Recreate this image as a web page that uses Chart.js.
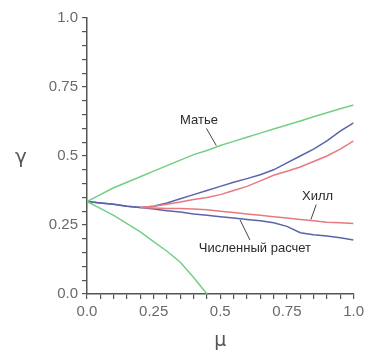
<!DOCTYPE html>
<html>
<head>
<meta charset="utf-8">
<script src="https://cdn.jsdelivr.net/npm/chart.js@4.4.1/dist/chart.umd.min.js"></script>
<style>
  html, body { margin: 0; padding: 0; background: #fff; }
  #wrap { width: 368px; height: 352px; }
</style>
</head>
<body>
<div id="wrap"><canvas id="myChart" width="368" height="352"></canvas></div>
<script>
// значения mu (шаг 0.05)
const mu = [0, 0.05, 0.1, 0.15, 0.2, 0.25, 0.3, 0.35, 0.4, 0.45, 0.5,
  0.55, 0.6, 0.65, 0.7, 0.75, 0.8, 0.85, 0.9, 0.95, 1.0];

// Матье, верхняя и нижняя ветви
const matieUpper = [0.335, 0.36, 0.385, 0.405, 0.425, 0.445, 0.465, 0.485, 0.505, 0.52, 0.538,
  0.553, 0.568, 0.583, 0.598, 0.612, 0.627, 0.642, 0.657, 0.671, 0.685];
const matieLower = [0.335, 0.31, 0.285, 0.255, 0.225, 0.19, 0.155, 0.115, 0.06, 0.0];

// численный расчет
const numUpper = [0.335, 0.33, 0.325, 0.318, 0.313, 0.318, 0.33, 0.345, 0.36, 0.375, 0.39,
  0.405, 0.418, 0.432, 0.45, 0.475, 0.5, 0.525, 0.555, 0.59, 0.62];
const numLower = [0.335, 0.33, 0.325, 0.318, 0.313, 0.308, 0.302, 0.297, 0.29, 0.285, 0.28,
  0.275, 0.27, 0.265, 0.258, 0.245, 0.222, 0.215, 0.21, 0.204, 0.196];

// Хилл (с mu = 0.2)
const hillUpper = [null, null, null, null, 0.313, 0.318, 0.325, 0.333, 0.342, 0.35, 0.36,
  0.375, 0.39, 0.41, 0.43, 0.445, 0.46, 0.48, 0.5, 0.525, 0.555];
const hillLower = [null, null, null, null, 0.313, 0.312, 0.31, 0.31, 0.308, 0.305, 0.3,
  0.295, 0.29, 0.285, 0.28, 0.275, 0.27, 0.265, 0.26, 0.258, 0.255];

const tickLabels = ['0.0', '0.25', '0.5', '0.75', '1.0'];

// подписи кривых: [текст, mu, gamma, линия от, линия до]
const notes = [
  ['Матье', 0.42, 0.63, [0.448, 0.6], [0.485, 0.538]],
  ['Хилл', 0.865, 0.353, [0.86, 0.324], [0.84, 0.27]],
  ['Численный расчет', 0.63, 0.164, [0.611, 0.196], [0.574, 0.269]]
];

function pts(arr) {
  return arr.map((v, i) => ({ x: mu[i], y: v }));
}

function serie(arr, color) {
  return {
    data: pts(arr),
    borderColor: color,
    borderWidth: 1.5,
    pointRadius: 0,
    fill: false,
    tension: 0
  };
}

const green = '#72cf86';
const blue = '#5a64aa';
const red = '#e67a80';

const data = {
  datasets: [
    serie(matieUpper, green),
    serie(matieLower, green),
    serie(hillUpper, red),
    serie(hillLower, red),
    serie(numUpper, blue),
    serie(numLower, blue)
  ]
};

function tickLabel(value) {
  const k = Math.round(value * 100);
  if (k % 25 !== 0) return '';
  return tickLabels[k / 25];
}

const notesPlugin = {
  id: 'notes',
  afterDatasetsDraw(chart) {
    const ctx = chart.ctx;
    const xs = chart.scales.x;
    const ys = chart.scales.y;
    ctx.save();
    ctx.font = '13px "Liberation Sans", Arial, sans-serif';
    ctx.fillStyle = '#2a2a2a';
    ctx.textAlign = 'center';
    ctx.textBaseline = 'middle';
    ctx.strokeStyle = '#444';
    ctx.lineWidth = 1;
    notes.forEach(n => {
      ctx.fillText(n[0], xs.getPixelForValue(n[1]), ys.getPixelForValue(n[2]));
      ctx.beginPath();
      ctx.moveTo(xs.getPixelForValue(n[3][0]), ys.getPixelForValue(n[3][1]));
      ctx.lineTo(xs.getPixelForValue(n[4][0]), ys.getPixelForValue(n[4][1]));
      ctx.stroke();
    });
    // подпись оси y, не повернутая
    ctx.font = '20px "DejaVu Sans", sans-serif';
    ctx.fillStyle = '#555';
    ctx.fillText('γ', 21, ys.getPixelForValue(0.5) + 2);
    ctx.restore();
  }
};

const axisColor = '#555';

const config = {
  type: 'line',
  data: data,
  options: {
    responsive: false,
    animation: false,
    layout: { padding: { left: 0, right: 9, top: 18, bottom: 0 } },
    plugins: {
      legend: { display: false },
      tooltip: { enabled: false }
    },
    scales: {
      x: {
        type: 'linear',
        min: 0,
        max: 1,
        afterFit(scale) { scale.height = 58; },
        border: { color: axisColor, width: 1.5 },
        grid: { drawOnChartArea: false, drawTicks: true, tickLength: 5, color: axisColor, lineWidth: 1.2 },
        ticks: {
          stepSize: 0.05,
          autoSkip: false,
          maxRotation: 0,
          padding: 4,
          color: '#6a6a6a',
          font: { family: '"Liberation Sans", Arial, sans-serif', size: 15 },
          callback: tickLabel
        },
        title: {
          display: true,
          text: 'μ',
          color: '#555',
          padding: { top: 2, bottom: 0 },
          font: { family: '"DejaVu Sans", sans-serif', size: 19 }
        }
      },
      y: {
        type: 'linear',
        min: 0,
        max: 1,
        afterFit(scale) { scale.width = 87; },
        border: { color: axisColor, width: 1.5 },
        grid: { drawOnChartArea: false, drawTicks: true, tickLength: 5, color: axisColor, lineWidth: 1.2 },
        ticks: {
          stepSize: 0.05,
          autoSkip: false,
          padding: 4,
          color: '#6a6a6a',
          font: { family: '"Liberation Sans", Arial, sans-serif', size: 15 },
          callback: tickLabel
        }
      }
    }
  },
  plugins: [notesPlugin]
};

const ctx = document.getElementById('myChart').getContext('2d');
const myChart = new Chart(ctx, config);
</script>
</body>
</html>
